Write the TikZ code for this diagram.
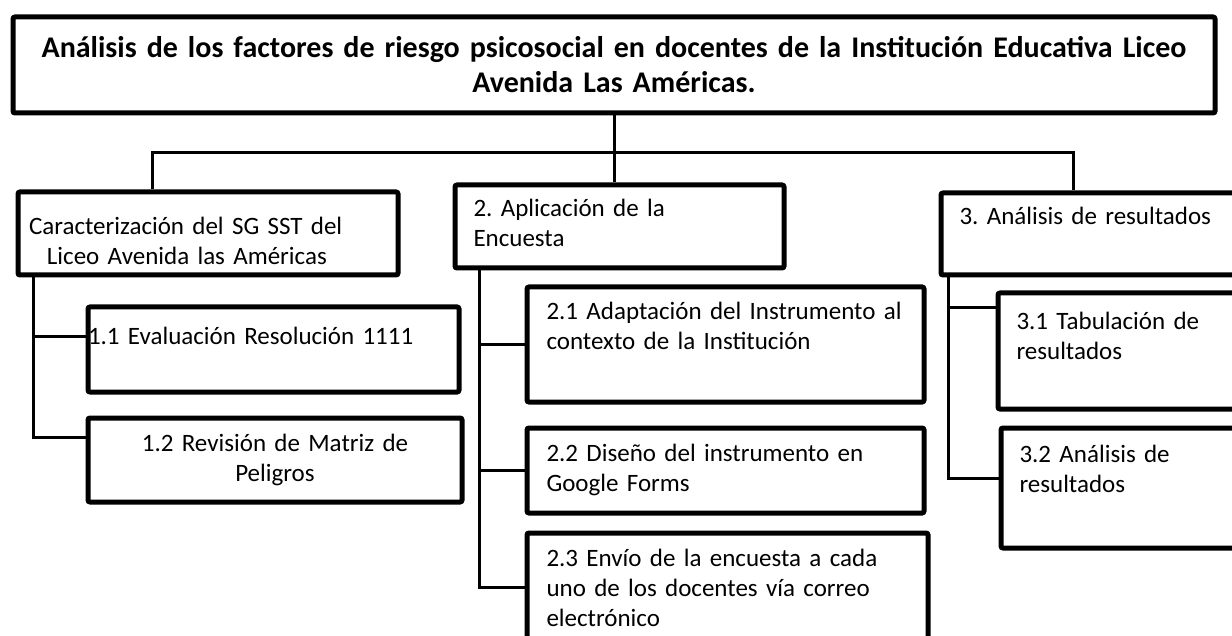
\documentclass[tikz,border=0pt]{standalone}
\usepackage{fontspec}
\setmainfont{Carlito}
\usetikzlibrary{positioning}
\frenchspacing

\begin{document}
\begin{tikzpicture}[
  x=0.5pt,y=-0.5pt,
  node distance=10.5pt,
  frame/.style={
    draw=black,line width=2.5pt,rounded corners=1pt,anchor=north west,
    inner ysep=0pt,align=left,font=\fontsize{12.5pt}{15pt}\selectfont
  },
  goal/.style={
    frame,align=center,inner xsep=5pt,
    font=\bfseries\fontsize{15pt}{17.5pt}\selectfont
  },
  phase/.style={frame,inner xsep=9.25pt},
  task/.style={frame,inner xsep=9.75pt},
  conn/.style={draw=black,line width=1.5pt}
]
  \useasboundingbox[fill=white] (0,0) rectangle (1232,636);

  % main goal
  \node[goal,text width=591pt,text height=20.25pt,text depth=27.75pt] (title) at (10.5,14.5)
    {Análisis de los factores de riesgo psicosocial en docentes de la Institución Educativa Liceo\\Avenida Las Américas.};

  % phases
  \node[phase,inner xsep=5.5pt,text width=179pt,text height=21.25pt,text depth=20.25pt] (carac) at (15.5,189.5)
    {Caracterización del SG SST del\\\hspace*{9pt}Liceo Avenida las Américas};
  \node[phase,text width=146pt,text height=15.75pt,text depth=25.75pt] (encuesta) at (452.5,182.5)
    {2. Aplicación de la\\Encuesta};
  \node[phase,text width=137.25pt,text height=15.75pt,text depth=25.25pt] (resultados) at (938.5,190.5)
    {3. Análisis de resultados};

  % tasks of phase 1
  \node[frame,inner xsep=0pt,text width=185.5pt,text height=18.75pt,text depth=23.75pt] (evaluacion) at (85.5,304.5)
    {1.1 Evaluación Resolución 1111};
  \node[frame,align=center,inner xsep=5pt,text width=177pt,text height=16.75pt,text depth=25.25pt,
    below=of evaluacion.south west,anchor=north west] (matriz)
    {1.2 Revisión de Matriz de\\Peligros};

  % tasks of phase 2
  \node[task,text width=179pt,text height=16.25pt,text depth=41.25pt] (adapt) at (524.5,284.5)
    {2.1 Adaptación del Instrumento al\\contexto de la Institución};
  \node[task,text width=179pt,text height=16.75pt,text depth=25.75pt,
    below=of adapt.south west,anchor=north west] (forms)
    {2.2 Diseño del instrumento en\\Google Forms};
  \node[task,text width=181pt,text height=16.75pt,text depth=48.25pt,
    below=7.5pt of forms.south west,anchor=north west] (envio)
    {2.3 Envío de la encuesta a cada\\uno de los docentes vía correo\\electrónico};

  % tasks of phase 3
  \node[phase,text width=108.75pt,text height=18.25pt,text depth=39.75pt] (tabul) at (995.5,290.5)
    {3.1 Tabulación de\\resultados};
  \node[phase,text width=107.25pt,text height=17.25pt,text depth=42.75pt,
    below=7pt of tabul.south west,anchor=north west,xshift=1.5pt] (analisis)
    {3.2 Análisis de\\resultados};

  % tree lines
  \coordinate (busL) at (152,153);
  \coordinate (busR) at (1073,153);
  \coordinate (col1) at (33,0);
  \coordinate (col2) at (479,0);
  \coordinate (col3) at (948,0);
  \coordinate (j11) at ([yshift=-16.25pt]evaluacion.north west);
  \coordinate (j31) at ([yshift=-8.75pt]tabul.north west);

  \draw[conn] (title.south) -- (title.south |- encuesta.north);
  \draw[conn] (busL |- carac.north) -- (busL) -- (busR) -- (busR |- resultados.north);

  \draw[conn] (col1 |- carac.south) |- ([yshift=-10.75pt]matriz.north west);
  \draw[conn] (j11) -- (j11 -| col1);

  \draw[conn] (col2 |- encuesta.south) |- ([yshift=-28.25pt]envio.north west);
  \draw[conn] (adapt.west) -- (adapt.west -| col2);
  \draw[conn] (forms.west) -- (forms.west -| col2);

  \draw[conn] (col3 |- resultados.south) |- ([yshift=-26.25pt]analisis.north west);
  \draw[conn] (j31) -- (j31 -| col3);
\end{tikzpicture}
\end{document}
